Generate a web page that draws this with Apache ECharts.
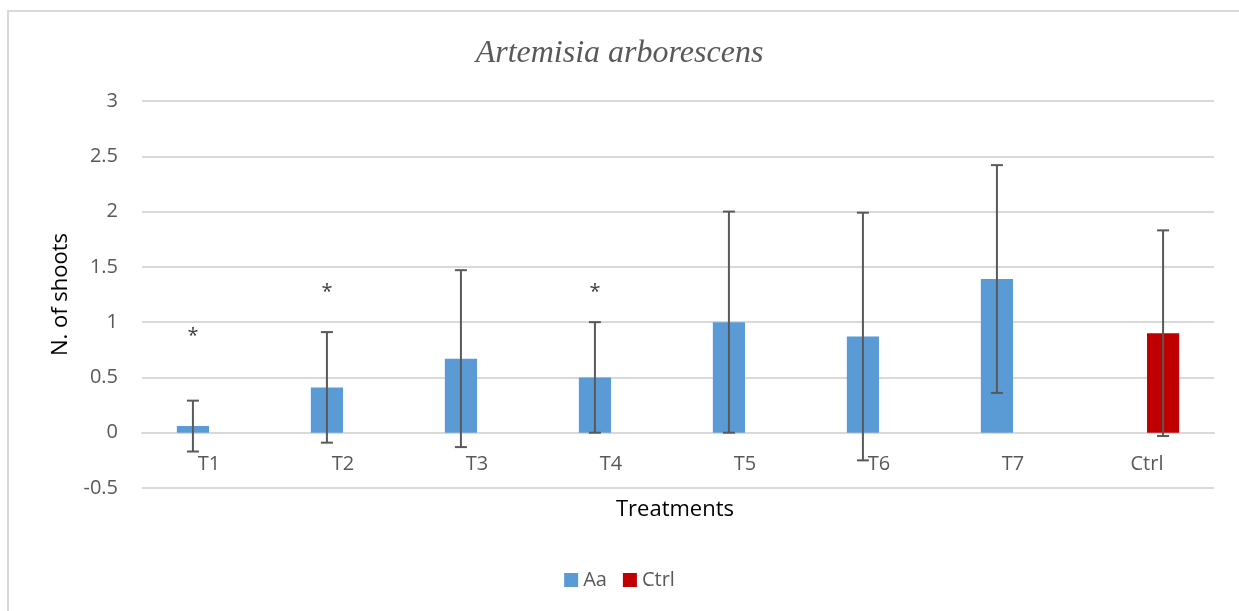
<!DOCTYPE html>
<html>
<head>
<meta charset="utf-8">
<script src="https://cdn.jsdelivr.net/npm/echarts@6/dist/echarts.min.js"></script>
<style>
html,body{margin:0;padding:0;background:#fff;}
#chart{width:1239px;height:611px;}
</style>
</head>
<body>
<div id="chart"></div>
<script>
var categories = ['T1','T2','T3','T4','T5','T6','T7','Ctrl'];
var aaMeans = [0.06, 0.41, 0.67, 0.5, 1.0, 0.87, 1.39, null];
var aaSD    = [0.23, 0.50, 0.80, 0.5, 1.0, 1.12, 1.03, null];
var ctrlMeans = [null, null, null, null, null, null, null, 0.9];
var ctrlSD    = [null, null, null, null, null, null, null, 0.93];
var starCats = ['T1','T2','T4'];
var starY = [0.87, 1.27, 1.27];
var yTicks = [-0.5, 0, 0.5, 1, 1.5, 2, 2.5, 3];

var BAR_FRAC = 0.24;
var font = 'Open Sans';

function errData(means, sds){
  var out = [];
  for (var i = 0; i < means.length; i++) {
    if (means[i] != null) out.push([i, means[i], means[i] - sds[i], means[i] + sds[i]]);
  }
  return out;
}
function errRender(side){
  return function(params, api){
    var i = api.value(0);
    var catW = api.size([1, 0])[0];
    var dx = side * catW * BAR_FRAC / 2;
    var lo = api.coord([i, api.value(2)]);
    var hi = api.coord([i, api.value(3)]);
    var x = lo[0] + dx;
    var cap = 6;
    var st = {stroke: '#595959', lineWidth: 2};
    return {type: 'group', children: [
      {type: 'line', shape: {x1: x, y1: lo[1], x2: x, y2: hi[1]}, style: st},
      {type: 'line', shape: {x1: x - cap, y1: lo[1], x2: x + cap, y2: lo[1]}, style: st},
      {type: 'line', shape: {x1: x - cap, y1: hi[1], x2: x + cap, y2: hi[1]}, style: st}
    ]};
  };
}

var starData = starCats.map(function(c, k){ return [categories.indexOf(c), starY[k]]; });

var chart = echarts.init(document.getElementById('chart'));
chart.setOption({
  animation: false,
  backgroundColor: '#ffffff',
  title: {
    text: 'Artemisia arborescens',
    left: 'center', top: 33,
    textStyle: {fontFamily: 'Liberation Serif', fontStyle: 'italic', fontWeight: 'normal', fontSize: 32, color: '#595959'}
  },
  grid: {left: 142, right: 25, top: 101, bottom: 123, containLabel: false},
  legend: {
    bottom: 16, left: 'center',
    itemWidth: 14, itemHeight: 14, itemGap: 16,
    icon: 'rect',
    textStyle: {fontFamily: font, fontSize: 20, color: '#595959'},
    data: ['Aa', 'Ctrl']
  },
  xAxis: {
    type: 'category',
    data: categories,
    axisLine: {onZero: true, lineStyle: {color: '#d9d9d9', width: 2}},
    axisTick: {show: false},
    axisLabel: {fontFamily: font, fontSize: 20, color: '#595959', margin: -34}
  },
  yAxis: {
    type: 'value',
    min: -0.5, max: 3, interval: 0.5,
    name: 'N. of shoots',
    nameLocation: 'middle',
    nameGap: 70,
    nameTextStyle: {fontFamily: font, fontSize: 22, color: '#000000'},
    axisLine: {show: false},
    axisTick: {show: false},
    splitLine: {lineStyle: {color: '#d9d9d9', width: 2}},
    axisLabel: {fontFamily: font, fontSize: 20, color: '#595959', margin: 24,
      formatter: function(v){ return yTicks.indexOf(v) >= 0 ? String(v) : ''; }}
  },
  series: [
    {name: 'Aa', type: 'bar', data: aaMeans, barWidth: (BAR_FRAC * 100) + '%', barGap: '0%',
     itemStyle: {color: '#5B9BD5'}},
    {name: 'Ctrl', type: 'bar', data: ctrlMeans, barWidth: (BAR_FRAC * 100) + '%', barGap: '0%',
     itemStyle: {color: '#C00000'}},
    {type: 'custom', renderItem: errRender(-1), data: errData(aaMeans, aaSD), z: 5, silent: true},
    {type: 'custom', renderItem: errRender(1), data: errData(ctrlMeans, ctrlSD), z: 5, silent: true},
    {type: 'custom', silent: true, z: 6, data: starData,
     renderItem: function(params, api){
       var catW = api.size([1, 0])[0];
       var p = api.coord([api.value(0), api.value(1)]);
       return {type: 'text', x: p[0] - catW * BAR_FRAC / 2, y: p[1],
         style: {text: '*', fontFamily: font, fontSize: 20, fill: '#404040', align: 'center', verticalAlign: 'middle'}};
     }}
  ],
  graphic: [
    {type: 'text', x: 675, y: 510,
     style: {text: 'Treatments', fontFamily: font, fontSize: 22, fill: '#000000', align: 'center', verticalAlign: 'middle'}},
    {type: 'line', shape: {x1: 7, y1: 11, x2: 1239, y2: 11}, style: {stroke: '#d9d9d9', lineWidth: 2}},
    {type: 'line', shape: {x1: 8, y1: 11, x2: 8, y2: 611}, style: {stroke: '#d9d9d9', lineWidth: 2}}
  ]
});
</script>
</body>
</html>
